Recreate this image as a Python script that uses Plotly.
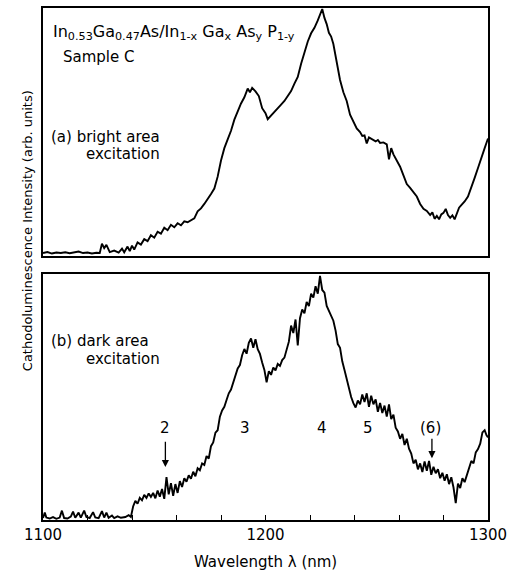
import plotly.graph_objects as go

# ---------------- data ----------------
wl_a = [1100, 1102, 1104, 1106, 1108, 1110, 1112, 1114, 1116, 1118, 1120, 1122, 1124, 1125.5,
        1126.5, 1127.5, 1128.5, 1130, 1132, 1134, 1135.5, 1136.5, 1138, 1139, 1140, 1141, 1142.5,
        1144, 1145.5, 1147, 1148.5, 1150, 1151.5, 1153, 1154.5, 1156, 1157.5, 1159, 1160.5, 1162,
        1163.5, 1165, 1166.5, 1168, 1169.5, 1171, 1172.5, 1174, 1175.5, 1177, 1178.5, 1180, 1181.5,
        1183, 1184.5, 1186, 1187.5, 1189, 1190.5, 1192, 1193, 1194, 1195.5, 1197, 1198.5, 1200,
        1201, 1202.5, 1204, 1205.5, 1207, 1208.5, 1210, 1211.5, 1213, 1214.5, 1216, 1217.5, 1219,
        1220.5, 1222, 1223.5, 1224.5, 1225.5, 1226.5, 1227.5, 1228.5, 1229.5, 1230.5, 1232, 1233.5,
        1235, 1236.5, 1238, 1239.5, 1241, 1242.5, 1243.5, 1244.5, 1245.5, 1246.5, 1248, 1249.5,
        1250.5, 1251.5, 1253, 1254.5, 1255.5, 1256.5, 1257.5, 1259, 1260.5, 1262, 1263.5, 1265,
        1266.5, 1268, 1269.5, 1271, 1272.5, 1274, 1275, 1276, 1277, 1278, 1279, 1280, 1281, 1282,
        1283, 1284, 1285, 1286, 1287, 1288, 1289.5, 1291, 1292.5, 1294, 1295.5, 1297, 1298.5, 1300]
int_a = [1.2, 1.6, 1.0, 1.4, 1.2, 1.5, 1.1, 1.3, 1.8, 1.2, 1.4, 1.0, 1.3, 1.2,
         5.0, 3.2, 4.5, 1.6, 2.2, 1.4, 3.0, 1.5, 3.8, 2.0, 4.2, 2.6, 5.5,
         4.6, 6.8, 6.0, 8.4, 7.4, 9.8, 9.0, 11.4, 10.4, 12.6, 11.6, 13.2, 12.4,
         14.0, 13.6, 14.4, 15.2, 18.0, 19.2, 21.0, 22.8, 25.0, 27.2, 32.0, 38.5, 43.5,
         47.0, 50.5, 55.0, 58.5, 61.5, 64.0, 67.5, 66.0, 67.8, 66.4, 64.5, 59.6, 57.6,
         55.2, 56.6, 58.0, 59.2, 61.0, 62.5, 64.8, 66.5, 69.5, 72.2, 77.5, 82.5, 86.5,
         89.8, 92.0, 95.0, 97.0, 99.6, 96.0, 93.5, 90.0, 88.5, 85.5, 78.0, 71.0,
         66.0, 62.5, 57.0, 54.0, 51.4, 50.0, 48.4, 48.6, 45.4, 47.8, 47.0, 46.2,
         46.8, 45.6, 45.8, 45.0, 39.0, 43.5, 41.0, 38.5, 36.0, 32.5, 29.0, 27.5,
         25.5, 24.0, 21.0, 19.0, 18.2, 16.5, 17.6, 15.0, 16.2, 14.8, 16.8, 17.4, 19.0, 16.5,
         15.4, 16.4, 14.8, 17.2, 19.5, 20.5, 22.0, 24.0, 27.5, 31.5, 35.5, 40.0, 43.5, 47.4]

wl_b = [1100, 1100.8, 1101.5, 1103, 1104.5, 1106, 1107.5, 1108.5, 1109.5, 1111, 1112.5, 1113.5,
        1114.5, 1116, 1117, 1118.5, 1119.5, 1121, 1122.5, 1123.5, 1125, 1126.5, 1127.5, 1128.5,
        1129.5, 1131, 1132, 1133.5, 1135, 1137, 1138.5, 1139.5, 1140.5, 1141.5, 1142.5, 1143.5,
        1144.5, 1145.5, 1146.5, 1147.5, 1148.5, 1149.5, 1150.5, 1151.5, 1152.5, 1153.5, 1154.5,
        1155.5, 1156.5, 1157.5, 1158.5, 1159.5, 1160.5, 1161.5, 1162.5, 1163.5, 1164.5, 1165.5,
        1166.5, 1167.5, 1168.5, 1169.5, 1170.5, 1171.5, 1172.5, 1173.5, 1174.5, 1175.5, 1176.5,
        1177.5, 1178.5, 1179.5, 1180.5, 1181.5, 1182.5, 1183.5, 1184.5, 1185.5, 1186.5, 1187.5,
        1188.5, 1189.5, 1190.5, 1191.5, 1192.5, 1193.5, 1194.5, 1195.5, 1196.5, 1197.5, 1198.5,
        1199.5, 1200.5, 1201.5, 1202.5, 1203.5, 1204.5, 1205.5, 1206.5, 1207.5, 1208.5, 1209.5,
        1210.5, 1211.5, 1212.5, 1213.5, 1214.5, 1215.5, 1216.5, 1217.5, 1218.5, 1219.5, 1220.5,
        1221.5, 1222.5, 1223.5, 1224.5, 1225.5, 1226.5, 1227.5, 1228.5, 1229.5, 1230.5, 1231.5,
        1232.5, 1233.5, 1234.5, 1235.5, 1236.5, 1237.5, 1238.5, 1239.5, 1240.5, 1241.5, 1242.5,
        1243.5, 1244.5, 1245.5, 1246.5, 1247.5, 1248.5, 1249.5, 1250.5, 1251.5, 1252.5, 1253.5,
        1254.5, 1255.5, 1256.5, 1257.5, 1258.5, 1259.5, 1260.5, 1261.5, 1262.5, 1263.5, 1264.5,
        1265.5, 1266.5, 1267.5, 1268.5, 1269.5, 1270.5, 1271.5, 1272.5, 1273.5, 1274.5, 1275.5,
        1276.5, 1277.5, 1278.5, 1279.5, 1280.5, 1281.5, 1282.5, 1283.5, 1284.5, 1285.5, 1286.5,
        1287.5, 1288.5, 1289.5, 1290.5, 1291.5, 1292.5, 1293.5, 1294.5, 1295.5, 1296.5, 1297.5,
        1298.5, 1299.3, 1300]
int_b = [0.8, 3.0, 1.0, 0.6, 1.2, 0.5, 1.0, 3.8, 0.8, 0.6, 1.4, 3.4,
         0.9, 3.0, 1.0, 3.8, 1.2, 0.8, 3.2, 1.0, 0.7, 3.6, 1.0, 3.0,
         0.9, 1.8, 0.8, 1.5, 0.9, 1.2, 2.0, 1.2, 5.5, 7.8, 6.6, 9.0,
         8.0, 10.2, 9.0, 10.8, 9.4, 11.0, 8.8, 12.0, 9.5, 12.6, 8.6,
         17.4, 10.4, 15.0, 9.8, 14.6, 11.0, 15.8, 13.4, 17.0, 15.6, 18.2,
         16.8, 19.6, 17.8, 21.0, 20.2, 23.0, 22.4, 26.0, 25.0, 30.0, 31.5,
         35.5, 36.5, 42.0, 44.5, 46.0, 48.8, 51.5, 53.0, 56.0, 58.0, 61.6,
         63.0, 67.0, 69.5, 67.6, 72.0, 73.8, 70.0, 73.5, 69.4, 67.5, 64.0,
         61.0, 56.0, 60.5, 59.0, 62.0, 60.8, 63.4, 62.6, 65.0, 66.0, 68.8,
         72.5, 79.0, 76.0, 81.5, 71.0, 82.0, 85.6, 84.0, 88.6, 87.0, 92.0,
         90.4, 95.0, 92.0, 99.2, 93.5, 92.4, 87.0, 85.0, 83.6, 81.0, 77.0,
         71.5, 70.0, 64.5, 61.0, 57.0, 53.0, 50.0, 47.5, 45.7, 48.6, 47.0,
         51.0, 48.0, 51.5, 46.0, 50.5, 47.0, 49.0, 44.0, 47.6, 43.5, 46.5,
         42.0, 47.0, 41.0, 42.8, 37.5, 36.0, 33.0, 35.0, 30.5, 33.0, 29.0,
         27.0, 23.0, 24.5, 20.6, 23.0, 19.5, 23.8, 20.0, 24.0, 18.4, 21.6,
         19.0, 20.6, 17.0, 19.2, 16.0, 18.6, 14.6, 17.4, 13.2, 6.9, 14.8,
         13.0, 17.0, 15.4, 18.6, 21.0, 24.0, 23.0, 27.5, 28.8, 31.0, 35.6,
         36.5, 34.5, 33.6]

x_ticks = [1100, 1120, 1140, 1160, 1180, 1200, 1220, 1240, 1260, 1280, 1300]
x_tick_text = ["1100", "", "", "", "", "1200", "", "", "", "", "1300"]

peak_labels = ["2", "3", "4", "5", "(6)"]
peak_wl = [1155, 1190.8, 1225.4, 1246, 1274]
arrow_wl = [1155, 1274.8]

FONT = "DejaVu Sans"

fig = go.Figure()
fig.add_trace(go.Scatter(x=wl_a, y=int_a, mode="lines", xaxis="x", yaxis="y",
                         line=dict(color="black", width=1.9), showlegend=False))
fig.add_trace(go.Scatter(x=wl_b, y=int_b, mode="lines", xaxis="x2", yaxis="y2",
                         line=dict(color="black", width=1.9), showlegend=False))

frame = dict(showline=True, linecolor="black", linewidth=1.5, mirror=True,
             showgrid=False, zeroline=False)

fig.update_layout(
    width=513, height=573,
    margin=dict(l=43, r=25, t=6, b=53),
    plot_bgcolor="white", paper_bgcolor="white",
    font=dict(family=FONT, color="black", size=14),
    xaxis=dict(range=[1100, 1300], domain=[0, 1], anchor="y", showticklabels=False,
               ticks="", **frame),
    yaxis=dict(range=[0, 100], domain=[0.5156, 1], anchor="x", showticklabels=False,
               ticks="", **frame),
    xaxis2=dict(range=[1100, 1300], domain=[0, 1], anchor="y2", tickmode="array",
                tickvals=x_ticks, ticktext=x_tick_text, ticks="inside", ticklen=5,
                tickwidth=1.2, tickcolor="black",
                tickfont=dict(family=FONT, size=15, color="black"), **frame),
    yaxis2=dict(range=[0, 100], domain=[0, 0.4805], anchor="x2", showticklabels=False,
                ticks="", **frame),
)

ann = []
def ptext(x, y, text, size=14, xanchor="left", angle=0):
    ann.append(dict(x=x, y=y, xref="paper", yref="paper", text=text, showarrow=False,
                    xanchor=xanchor, yanchor="middle", textangle=angle,
                    font=dict(family=FONT, size=size, color="black")))

ptext(0.018, 0.953,
      "In<sub>0.53</sub>Ga<sub>0.47</sub>As/In<sub>1-x</sub> Ga<sub>x</sub> As<sub>y</sub> P<sub>1-y</sub>",
      size=16)
ptext(0.040, 0.905, "Sample C", size=15)
ptext(0.014, 0.749, "(a) bright area", size=15)
ptext(0.092, 0.714, "excitation", size=15)
ptext(0.014, 0.350, "(b) dark area", size=15)
ptext(0.092, 0.315, "excitation", size=15)
ptext(0.499, -0.082, "Wavelength λ (nm)", size=15, xanchor="center")
ptext(-0.036, 0.566, "Cathodoluminescence Intensity (arb. units)", size=13,
      xanchor="center", angle=-90)

for lab, w in zip(peak_labels, peak_wl):
    ann.append(dict(x=w, y=37.5, xref="x2", yref="y2", text=lab, showarrow=False,
                    xanchor="center", yanchor="middle",
                    font=dict(family=FONT, size=15, color="black")))

arrow_tail = [32.4, 33.6]
arrow_tip = [21.5, 25.1]
for w, t0, t1 in zip(arrow_wl, arrow_tail, arrow_tip):
    ann.append(dict(x=w, y=t1, ax=w, ay=t0, xref="x2", yref="y2", axref="x2", ayref="y2",
                    text="", showarrow=True, arrowhead=2, arrowsize=1.1, arrowwidth=1.3,
                    arrowcolor="black"))

fig.update_layout(annotations=ann)
fig.write_html("out.html")
